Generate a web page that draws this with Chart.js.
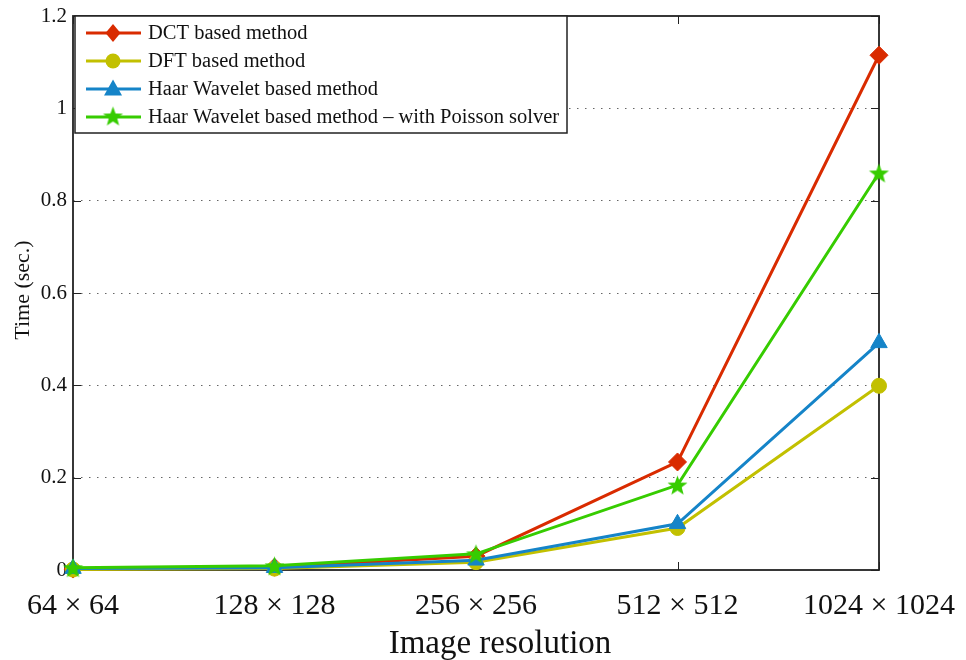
<!DOCTYPE html>
<html>
<head>
<meta charset="utf-8">
<script src="https://cdn.jsdelivr.net/npm/chart.js@4/dist/chart.umd.min.js"></script>
<style>
html,body{margin:0;padding:0;background:#fff;}
#wrap{width:966px;height:660px;position:relative;}
</style>
</head>
<body>
<div id="wrap"><canvas id="c" width="966" height="660"></canvas></div>
<script>
const categories = ['64 \u00d7 64', '128 \u00d7 128', '256 \u00d7 256', '512 \u00d7 512', '1024 \u00d7 1024'];
const dctValues = [0.002, 0.006, 0.030, 0.234, 1.115];
const dftValues = [0.001, 0.003, 0.017, 0.091, 0.399];
const haarValues = [0.003, 0.005, 0.021, 0.100, 0.492];
const haarPoissonValues = [0.005, 0.009, 0.035, 0.184, 0.860];
const seriesLabels = ['DCT based method', 'DFT based method', 'Haar Wavelet based method', 'Haar Wavelet based method \u2013 with Poisson solver'];
const yTicks = [0, 0.2, 0.4, 0.6, 0.8, 1, 1.2];
const xTitle = 'Image resolution';
const yTitle = 'Time (sec.)';

const colors = ['#d92b00', '#c2c000', '#1584c8', '#36cc00'];
const FONT = "'Liberation Serif', 'Times New Roman', serif";

function makeStar(color, R, r) {
  const s = Math.ceil(R * 2 + 2);
  const cv = document.createElement('canvas');
  cv.width = s; cv.height = s;
  const g = cv.getContext('2d');
  g.fillStyle = color;
  g.beginPath();
  for (let i = 0; i < 10; i++) {
    const rad = i % 2 === 0 ? R : r;
    const a = -Math.PI / 2 + i * Math.PI / 5;
    const x = s / 2 + rad * Math.cos(a), y = s / 2 + 1 + rad * Math.sin(a);
    if (i === 0) g.moveTo(x, y); else g.lineTo(x, y);
  }
  g.closePath();
  g.fill();
  return cv;
}
const starImg = makeStar(colors[3], 10.5, 4.4);

function ds(label, data, color, style, radius, order) {
  return {
    label, data, order,
    borderColor: color, backgroundColor: color,
    pointBackgroundColor: color, pointBorderColor: color,
    borderWidth: 3, pointStyle: style, pointRadius: radius, pointBorderWidth: 1,
    tension: 0, fill: false, clip: false
  };
}

const datasets = [
  ds(seriesLabels[0], dctValues, colors[0], 'rectRot', 9, 3),
  ds(seriesLabels[1], dftValues, colors[1], 'circle', 7.5, 2),
  ds(seriesLabels[2], haarValues, colors[2], 'triangle', 9.5, 1),
  ds(seriesLabels[3], haarPoissonValues, colors[3], starImg, 11, 0)
];

const framePlugin = {
  id: 'frame',
  beforeDatasetsDraw(chart) {
    const {ctx, chartArea: a, scales} = chart;
    ctx.save();
    ctx.strokeStyle = '#222';
    ctx.lineWidth = 1;
    yTicks.forEach(v => {
      const y = Math.round(scales.y.getPixelForValue(v)) + 0.5;
      ctx.beginPath();
      ctx.moveTo(a.left, y); ctx.lineTo(a.left + 8, y);
      ctx.moveTo(a.right, y); ctx.lineTo(a.right - 8, y);
      ctx.stroke();
    });
    categories.forEach((c, i) => {
      const x = Math.round(scales.x.getPixelForValue(i)) + 0.5;
      ctx.beginPath();
      ctx.moveTo(x, a.bottom); ctx.lineTo(x, a.bottom - 8);
      ctx.moveTo(x, a.top); ctx.lineTo(x, a.top + 8);
      ctx.stroke();
    });
    ctx.lineWidth = 1.8;
    ctx.strokeRect(a.left, a.top, a.right - a.left, a.bottom - a.top);
    ctx.fillStyle = '#111';
    ctx.textAlign = 'center';
    ctx.textBaseline = 'middle';
    ctx.font = '33px ' + FONT;
    ctx.fillText(xTitle, 500, 644);
    ctx.save();
    ctx.translate(23, 290);
    ctx.rotate(-Math.PI / 2);
    ctx.font = '22px ' + FONT;
    ctx.fillText(yTitle, 0, 0);
    ctx.restore();
    ctx.restore();
  },
  afterDatasetsDraw(chart) {
    const {ctx, chartArea: a} = chart;
    ctx.save();
    const lx = a.left + 2, ly = a.top, lw = 492, lh = 117;
    ctx.fillStyle = '#fff';
    ctx.fillRect(lx, ly, lw, lh);
    ctx.strokeStyle = '#222';
    ctx.lineWidth = 1.5;
    ctx.strokeRect(lx, ly, lw, lh);
    ctx.font = '20.5px ' + FONT;
    ctx.textBaseline = 'middle';
    ctx.textAlign = 'left';
    chart.data.datasets.forEach((d, i) => {
      const y = ly + 17 + i * 28;
      ctx.strokeStyle = d.borderColor;
      ctx.lineWidth = 3;
      ctx.beginPath();
      ctx.moveTo(lx + 11, y); ctx.lineTo(lx + 66, y);
      ctx.stroke();
      const mx = lx + 38;
      ctx.fillStyle = d.borderColor;
      if (d.pointStyle === 'rectRot') {
        ctx.beginPath();
        ctx.moveTo(mx, y - 9); ctx.lineTo(mx + 7.5, y); ctx.lineTo(mx, y + 9); ctx.lineTo(mx - 7.5, y);
        ctx.closePath(); ctx.fill();
      } else if (d.pointStyle === 'circle') {
        ctx.beginPath(); ctx.arc(mx, y, 7.5, 0, Math.PI * 2); ctx.fill();
      } else if (d.pointStyle === 'triangle') {
        ctx.beginPath();
        ctx.moveTo(mx, y - 9.5); ctx.lineTo(mx + 9, y + 6.5); ctx.lineTo(mx - 9, y + 6.5);
        ctx.closePath(); ctx.fill();
      } else {
        ctx.drawImage(starImg, mx - starImg.width / 2, y - starImg.height / 2 - 1);
      }
      ctx.fillStyle = '#111';
      ctx.fillText(d.label, lx + 73, y + 1);
    });
    ctx.restore();
  }
};

new Chart(document.getElementById('c'), {
  type: 'line',
  data: { labels: categories, datasets },
  options: {
    responsive: false,
    animation: false,
    layout: { padding: { top: 16, right: 87, left: 0, bottom: 0 } },
    plugins: { legend: { display: false }, tooltip: { enabled: false } },
    scales: {
      x: {
        type: 'category',
        offset: false,
        grid: { display: false, drawTicks: false },
        border: { display: false },
        ticks: { color: '#111', font: { family: FONT, size: 30 }, padding: 18, maxRotation: 0, autoSkip: false },
        title: { display: false },
        afterFit(s) { s.height = 90; s.paddingLeft = 0; s.paddingRight = 0; }
      },
      y: {
        min: 0, max: 1.2,
        afterBuildTicks(s) { s.ticks = yTicks.map(v => ({ value: v })); },
        grid: {
          color: (c) => (c.tick && (c.tick.value === 0 || c.tick.value === 1.2)) ? 'rgba(0,0,0,0)' : '#666',
          lineWidth: 1, drawTicks: false
        },
        border: { display: false, dash: [1.5, 6.5] },
        ticks: { color: '#111', font: { family: FONT, size: 21 }, padding: 6,
          callback: (v) => String(v) },
        title: { display: false },
        afterFit(s) { s.width = 73; s.paddingTop = 0; s.paddingBottom = 0; }
      }
    }
  },
  plugins: [framePlugin]
});
</script>
</body>
</html>
